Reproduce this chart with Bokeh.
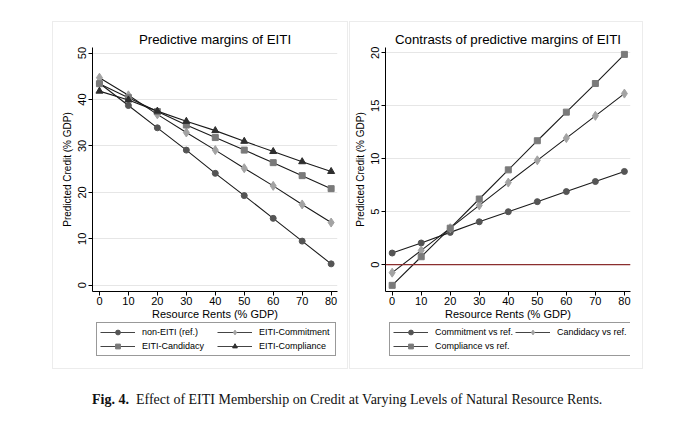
from bokeh.plotting import figure
from bokeh.models import Legend, LegendItem, Span, Range1d, Div, FixedTicker
from bokeh.layouts import row, column
from bokeh.embed import file_html
from bokeh.resources import INLINE

# ---------------- data ----------------
rents = [0, 10, 20, 30, 40, 50, 60, 70, 80]

non_eiti = [43.5, 38.7, 33.9, 29.1, 24.1, 19.3, 14.4, 9.5, 4.6]
eiti_commitment = [44.7, 40.9, 36.8, 32.9, 29.1, 25.2, 21.4, 17.4, 13.5]
eiti_candidacy = [43.4, 40.4, 37.4, 34.5, 31.8, 29.1, 26.4, 23.6, 20.8]
eiti_compliance = [41.8, 39.9, 37.5, 35.3, 33.3, 31.0, 28.8, 26.6, 24.5]

commit_vs_ref = [1.1, 2.05, 3.05, 4.05, 5.0, 5.95, 6.9, 7.85, 8.8]
cand_vs_ref = [-0.75, 1.35, 3.45, 5.6, 7.75, 9.85, 11.95, 14.05, 16.15]
comp_vs_ref = [-1.95, 0.75, 3.45, 6.2, 8.95, 11.7, 14.4, 17.1, 19.85]

x_ticks = [0, 10, 20, 30, 40, 50, 60, 70, 80]
y_ticks_left = [0, 10, 20, 30, 40, 50]
y_ticks_right = [0, 5, 10, 15, 20]

left_labels = ["non-EITI (ref.)", "EITI-Commitment", "EITI-Candidacy", "EITI-Compliance"]
right_labels = ["Commitment vs ref.", "Candidacy vs ref.", "Compliance vs ref."]

caption_bold = "Fig. 4."
caption_text = "Effect of EITI Membership on Credit at Varying Levels of Natural Resource Rents."

# ---------------- styles ----------------
SANS = "Liberation Sans"
LINE_C = "#1a1a1a"
C_CIRCLE = "#555555"
C_DIAMOND = "#a3a3a3"
C_SQUARE = "#7a7a7a"
C_TRI = "#2e2e2e"
MARKERS = {"circle": (C_CIRCLE, 6), "diamond": (C_DIAMOND, 9),
           "square": (C_SQUARE, 6), "triangle": (C_TRI, 7)}


def base_fig(width, mb_left, mb_right, title, title_offset, x_rng, y_rng, y_ticks):
    p = figure(width=width, height=300, output_backend="svg", toolbar_location=None,
               x_range=Range1d(*x_rng), y_range=Range1d(*y_rng),
               min_border_left=mb_left, min_border_right=mb_right,
               min_border_top=25, min_border_bottom=29)
    p.outline_line_color = None
    p.background_fill_color = "white"
    p.border_fill_color = "white"
    p.title.text = title
    p.title.align = "center"
    p.title.offset = title_offset
    p.title.text_font = SANS
    p.title.text_font_size = "13.3px"
    p.title.text_font_style = "normal"
    p.title.text_color = "#000000"
    p.title.standoff = 2

    p.xgrid.grid_line_color = None
    p.ygrid.grid_line_color = "#e6e6e6"
    p.ygrid.grid_line_width = 1

    for ax in (p.xaxis[0], p.yaxis[0]):
        ax.axis_line_color = "#000000"
        ax.axis_line_width = 1
        ax.major_tick_line_color = "#000000"
        ax.major_tick_out = 4
        ax.major_tick_in = 0
        ax.minor_tick_line_color = None
        ax.major_label_text_font = SANS
        ax.major_label_text_color = "#000000"
        ax.axis_label_text_font = SANS
        ax.axis_label_text_font_style = "normal"
        ax.axis_label_text_color = "#000000"

    p.xaxis.ticker = FixedTicker(ticks=x_ticks)
    p.xaxis.major_label_text_font_size = "11px"
    p.xaxis.major_label_standoff = 1
    p.xaxis.axis_label = "Resource Rents (% GDP)"
    p.xaxis.axis_label_text_font_size = "11px"
    p.xaxis.axis_label_standoff = 0

    p.yaxis.ticker = FixedTicker(ticks=y_ticks)
    p.yaxis.major_label_orientation = "vertical"
    p.yaxis.major_label_text_font_size = "11px"
    p.yaxis.major_label_standoff = 2
    p.yaxis.axis_label = "Predicted Credit (% GDP)"
    p.yaxis.axis_label_text_font_size = "10px"
    p.yaxis.axis_label_standoff = 3
    return p


def series(p, ys, marker):
    color, size = MARKERS[marker]
    p.line(rents, ys, line_color=LINE_C, line_width=1.1)
    p.scatter(rents, ys, marker=marker, size=size, fill_color=color, line_color=color)


def legend_fig(width, mb_left, mb_right, labels, markers, loc, label_w):
    # legend-only strip under the plot; proxy glyphs sit outside the visible range
    f = figure(width=width, height=46, output_backend="svg", toolbar_location=None,
               x_range=Range1d(0, 1), y_range=Range1d(0, 1),
               x_axis_type=None, y_axis_type=None,
               min_border_left=mb_left, min_border_right=mb_right,
               min_border_top=0, min_border_bottom=0)
    f.outline_line_color = None
    f.xgrid.visible = False
    f.ygrid.visible = False
    f.border_fill_color = "white"
    f.background_fill_color = "white"
    items = []
    for lab, mk in zip(labels, markers):
        color, size = MARKERS[mk]
        lr = f.line([-5, -4], [-5, -4], line_color="#444444", line_width=1.1)
        sr = f.scatter([-5], [-5], marker=mk, size=size, fill_color=color, line_color=color)
        items.append(LegendItem(label=lab, renderers=[lr, sr]))
    leg = Legend(items=items, nrows=2, location=loc,
                 border_line_color="#333333", border_line_width=1,
                 background_fill_color="white", background_fill_alpha=1,
                 label_text_font=SANS, label_text_font_size="9px",
                 label_text_color="#000000",
                 glyph_width=35, glyph_height=12, label_standoff=7,
                 label_height=12, label_width=label_w, spacing=2, padding=3, margin=0)
    f.add_layout(leg)
    return f


# ---------------- left panel ----------------
pL = base_fig(294, 39, 10, "Predictive margins of EITI", -14,
              (-2.4, 82.2), (-1.35, 51.2), y_ticks_left)
series(pL, non_eiti, "circle")
series(pL, eiti_commitment, "diamond")
series(pL, eiti_candidacy, "square")
series(pL, eiti_compliance, "triangle")
# legend fills column-first: order so rows read (non-EITI, Commitment) / (Candidacy, Compliance)
legL = legend_fig(294, 39, 10,
                  [left_labels[0], left_labels[2], left_labels[1], left_labels[3]],
                  ["circle", "square", "diamond", "triangle"], (4, 12), 73)

# ---------------- right panel ----------------
pR = base_fig(292, 35, 12, "Contrasts of predictive margins of EITI", -12,
              (-2.3, 82.1), (-2.53, 20.5), y_ticks_right)
pR.add_layout(Span(location=0, dimension="width", line_color="#8b2e2e", line_width=1.2))
series(pR, commit_vs_ref, "circle")
series(pR, cand_vs_ref, "diamond")
series(pR, comp_vs_ref, "square")
legR = legend_fig(292, 35, 12,
                  [right_labels[0], right_labels[2], right_labels[1]],
                  ["circle", "square", "diamond"], (4, 12), 66)

colL = column(pL, legL, spacing=0, styles={"outline": "1px solid #ececec"})
colR = column(pR, legR, spacing=0, styles={"outline": "1px solid #ececec"})
panels = row(colL, colR, spacing=3)
panels.margin = (22, 0, 0, 53)

caption = Div(text="<b>%s</b>&nbsp; %s" % (caption_bold, caption_text), width=600,
              styles={"font-family": "'Liberation Serif', serif", "font-size": "14px",
                      "color": "#111111", "white-space": "nowrap"})
caption.margin = (22, 0, 0, 92)

layout = column(panels, caption)

open("out.html", "w").write(file_html(layout, INLINE))
